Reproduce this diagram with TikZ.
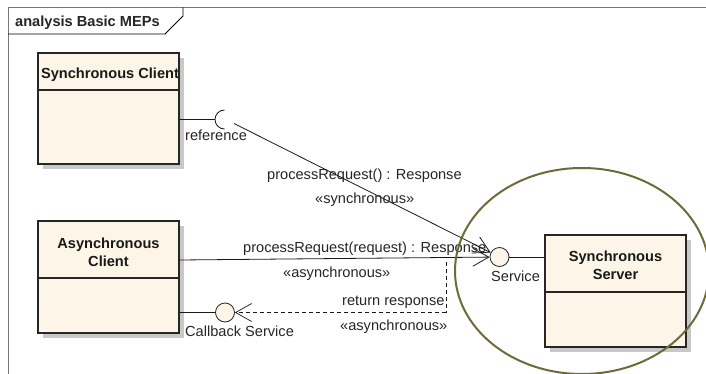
\documentclass[tikz,border=0pt]{standalone}
\usepackage{fontspec}
\setmainfont{Liberation Sans}
\usetikzlibrary{arrows.meta,shadows}
\definecolor{boxfill}{RGB}{253,245,232}
\definecolor{ellcol}{RGB}{110,106,58}
\definecolor{framegray}{RGB}{120,120,120}
\definecolor{shadowgray}{RGB}{200,200,200}
\begin{document}
\begin{tikzpicture}[x=1pt,y=-1pt,
  lbl/.style={font=\fontsize{14.6pt}{17pt}\selectfont, inner sep=0pt, anchor=base west, text=black!85},
  ttl/.style={font=\fontsize{14.6pt}{17pt}\selectfont\bfseries, inner sep=0pt, anchor=base, text=black!90},
  umlbox/.style={draw=black!85, line width=1.2pt, fill=boxfill, minimum width=141pt, inner sep=0pt,
    drop shadow={shadow xshift=5pt,shadow yshift=-5pt,fill=shadowgray,opacity=1}},
  lollipop/.style={circle, draw=black!85, fill=boxfill, minimum size=19pt, inner sep=0pt, line width=0.8pt},
  conn/.style={line width=0.8pt, draw=black!90},
  tipend/.style={-{Straight Barb[length=16pt,width=18pt]}},
]
\useasboundingbox (0,0) rectangle (706,374);
\clip (0,0) rectangle (706,374);
\fill[white] (0,0) rectangle (706,374);

% frame
\draw[framegray, line width=1pt] (8,380) -- (8,7.5) -- (712,7.5);
\draw[black, line width=0.8pt] (8,34) -- (165,34) -- (183,16) -- (183,7.5);
\node[lbl, font=\fontsize{14.6pt}{17pt}\selectfont\bfseries] (title) at (15,26.5) {analysis Basic MEPs};

% boxes
\node[umlbox, minimum height=111pt] (sc) at (108.5,108.5) {};
\node[umlbox, minimum height=112pt] (ac) at (108.5,277) {};
\node[umlbox, minimum height=112pt] (ss) at (615.5,291) {};
\draw[line width=1.2pt, black!85] (sc.west |- 0,90) -- (sc.east |- 0,90);
\draw[line width=1.2pt, black!85] (ac.west |- 0,278) -- (ac.east |- 0,278);
\draw[line width=1.2pt, black!85] (ss.west |- 0,292) -- (ss.east |- 0,292);

\node[ttl] (sct) at (110,78.5) {Synchronous Client};
\node[ttl] (act1) at (108.5,248.5) {Asynchronous};
\node[ttl] (act2) at (108.5,266.5) {Client};
\node[ttl] (sst1) at (615.5,261) {Synchronous};
\node[ttl] (sst2) at (615.5,279.5) {Server};

% interfaces
\node[lollipop] (svc) at (499.5,257) {};
\node[lollipop] (cb) at (225,312.5) {};
\coordinate (sockc) at (224.5,119.5);
\coordinate (sockl) at (215,119.5);
\draw[conn] (sc.east |- 0,119.5) -- (sockl);
\draw[conn] (224.5,110) arc[start angle=90, end angle=270, radius=9.5pt];
\coordinate (refstart) at (234,123.5);

\draw[conn] (svc) -- (ss.west |- svc);
\draw[conn] (ac.east |- 0,312.5) -- (cb);

% connectors
\draw[conn, tipend] (refstart) -- (svc);
\draw[conn, tipend] (ac.east |- 0,260) -- (svc);
\coordinate (rcorner) at (446,262);
\draw[conn, dash pattern=on 4pt off 3pt, line width=0.7pt] (rcorner) -- (446,312.5);
\draw[conn, dash pattern=on 4pt off 3pt, line width=0.7pt, tipend] (446,312.5) -- (cb);

% labels
\node[lbl] (lref) at (185,141) {reference};
\node[lbl] (lpr1) at (267,179) {processRequest() : Response};
\node[lbl] (lsyn) at (315,204) {«synchronous»};
\node[lbl] (lpr2) at (243,252.5) {processRequest(request) : Response};
\node[lbl] (las1) at (283,277) {«asynchronous»};
\node[lbl] (lret) at (342,305.5) {return response};
\node[lbl] (las2) at (340,330) {«asynchronous»};
\node[lbl] (lcb) at (185,336) {Callback Service};
\node[lbl] (lsvc) at (491,281) {Service};

% ellipse
\draw[ellcol, line width=2pt] (582,271) ellipse [x radius=127, y radius=103];
\end{tikzpicture}
\end{document}
